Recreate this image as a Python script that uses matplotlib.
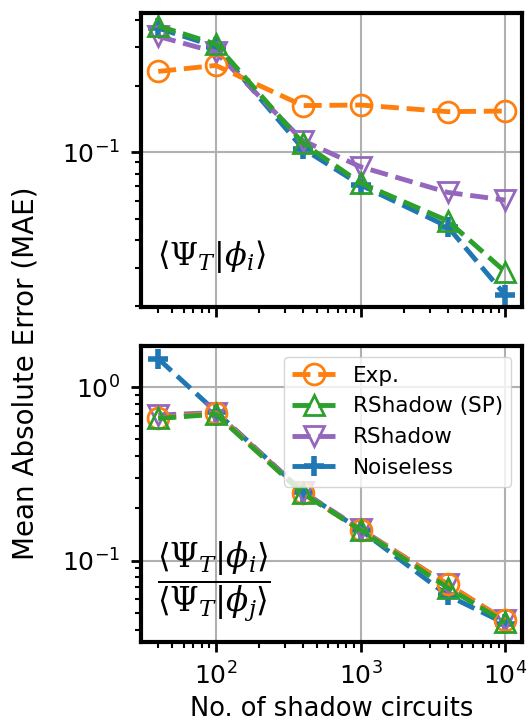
import matplotlib
matplotlib.use("Agg")
import matplotlib.pyplot as plt

shots = [40, 100, 400, 1000, 4000, 10000]

# Top panel: <Psi_T|phi_i>
top_exp = [0.233, 0.248, 0.163, 0.164, 0.153, 0.154]
top_sp = [0.375, 0.310, 0.110, 0.0726, 0.0489, 0.0287]
top_rs = [0.336, 0.285, 0.113, 0.086, 0.0658, 0.0607]
top_noiseless = [0.366, 0.302, 0.104, 0.0711, 0.046, 0.0225]

# Bottom panel: ratio
bot_exp = [0.662, 0.708, 0.244, 0.150, 0.073, 0.0452]
bot_sp = [0.660, 0.698, 0.244, 0.150, 0.0698, 0.0440]
bot_rs = [0.690, 0.714, 0.249, 0.152, 0.073, 0.0452]
bot_noiseless = [1.46, 0.723, 0.249, 0.150, 0.063, 0.0433]

labels = ["Exp.", "RShadow (SP)", "RShadow", "Noiseless"]

plt.rcParams['mathtext.fontset'] = 'dejavuserif'
plt.rcParams['font.size'] = 18

fig = plt.figure(figsize=(5.28, 7.23), dpi=100)
ax1 = fig.add_axes([0.267, 0.575, 0.989 - 0.267, 0.982 - 0.575])
ax2 = fig.add_axes([0.267, 0.112, 0.989 - 0.267, 0.521 - 0.112], sharex=ax1)

ms = 15
mew = 2
lw = 3.5

def draw(ax, exp, sp, rs, nl):
    h_nl, = ax.plot(shots, nl, ls='--', marker='+', color='tab:blue', ms=ms, mew=4, lw=lw)
    h_rs, = ax.plot(shots, rs, ls='--', marker='v', color='tab:purple', ms=ms, mew=mew, mfc='none', lw=lw)
    h_exp, = ax.plot(shots, exp, ls='--', marker='o', color='tab:orange', ms=ms, mew=mew, mfc='none', lw=lw)
    h_sp, = ax.plot(shots, sp, ls='--', marker='^', color='tab:green', ms=ms, mew=mew, mfc='none', lw=lw)
    ax.set_xscale('log')
    ax.set_yscale('log')
    ax.grid(True, which='major', color='#b0b0b0', lw=1.5)
    for s in ax.spines.values():
        s.set_linewidth(3)
    ax.tick_params(which='major', length=7, width=2, labelsize=18, pad=8)
    ax.tick_params(which='minor', length=4, width=1.5)
    return [h_exp, h_sp, h_rs, h_nl]

draw(ax1, top_exp, top_sp, top_rs, top_noiseless)
handles = draw(ax2, bot_exp, bot_sp, bot_rs, bot_noiseless)

ax1.set_xlim(30.4, 13100)
ax1.set_ylim(0.0198, 0.429)
ax2.set_ylim(0.0339, 1.72)
plt.setp(ax1.get_xticklabels(), visible=False)

ax2.legend(handles, labels, loc='upper right', fontsize=15.5)
ax2.set_xlabel("No. of shadow circuits", fontsize=18.5, labelpad=4)
fig.text(0.048, 0.484, "Mean Absolute Error (MAE)", rotation=90, va='center', ha='center', fontsize=20)

ax1.text(0.042, 0.11, r"$\langle\Psi_T|\phi_i\rangle$", transform=ax1.transAxes, fontsize=23, va='bottom', ha='left')
ax2.text(0.042, 0.205, r"$\dfrac{\langle\Psi_T|\phi_i\rangle}{\langle\Psi_T|\phi_j\rangle}$", transform=ax2.transAxes, fontsize=23.5, va='center', ha='left')

fig.savefig("out.png", dpi=100)
